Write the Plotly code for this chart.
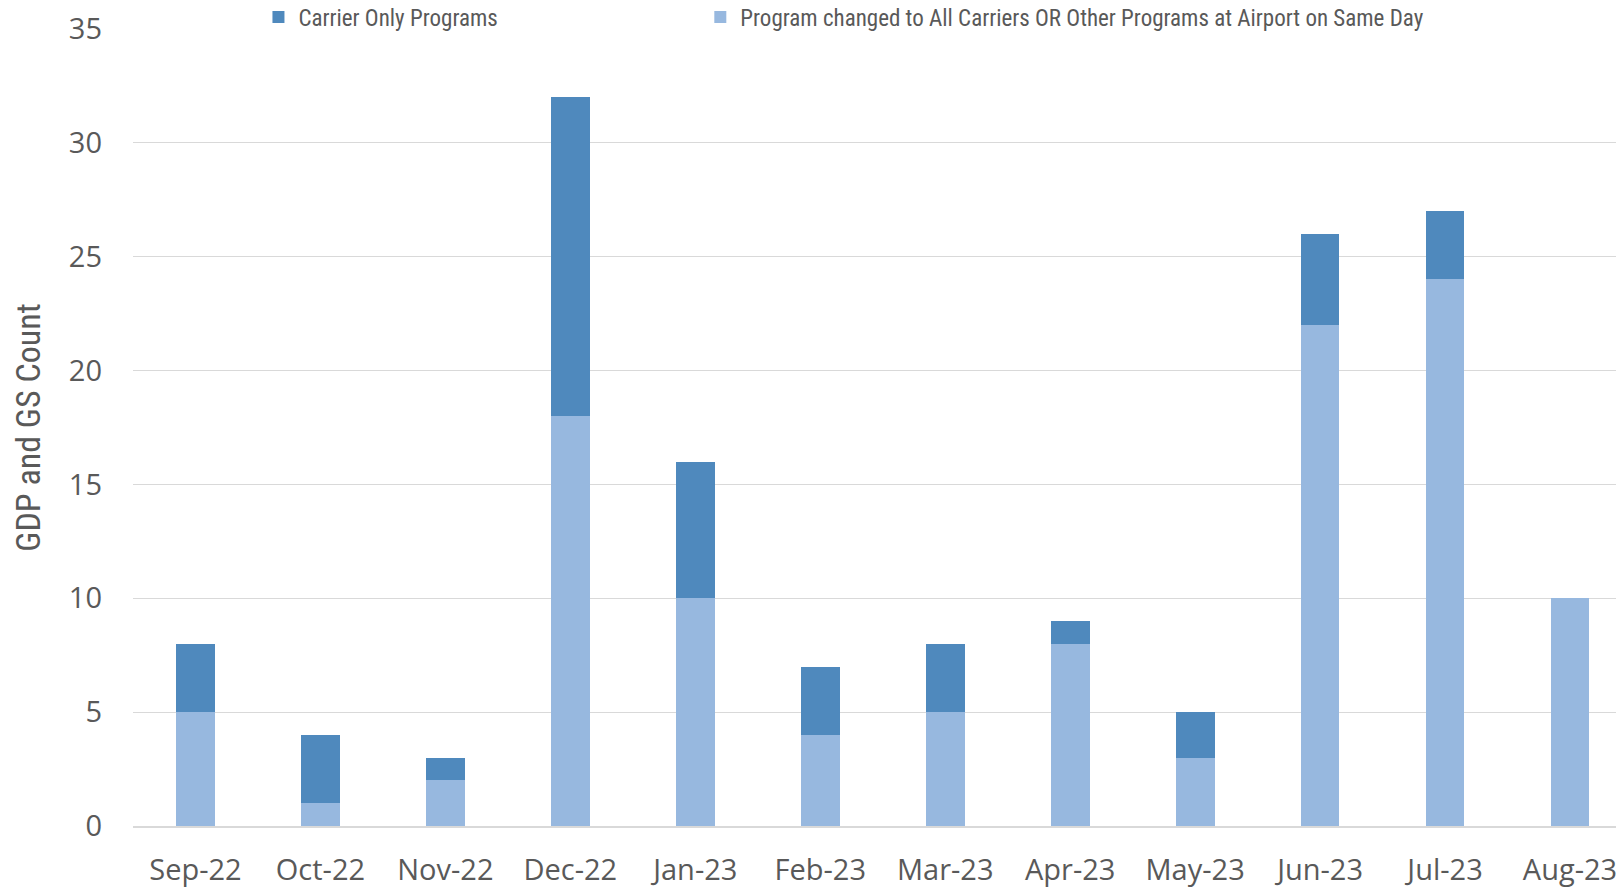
import plotly.graph_objects as go

months = ["Sep-22", "Oct-22", "Nov-22", "Dec-22", "Jan-23", "Feb-23",
          "Mar-23", "Apr-23", "May-23", "Jun-23", "Jul-23", "Aug-23"]
changed_programs = [5, 1, 2, 18, 10, 4, 5, 8, 3, 22, 24, 10]
carrier_only = [3, 3, 1, 14, 6, 3, 3, 1, 2, 4, 3, 0]

DARK = "#4F89BD"
LIGHT = "#97B8DF"
TICK_FONT = dict(family="Open Sans, sans-serif", size=29, color="#595959")
NARROW = "Liberation Sans Narrow, Roboto Condensed, Liberation Sans, sans-serif"

# page body adds an 8px offset, so the figure is 8px smaller than the window
W, H = 1616, 882
L, T, B = 124.5, 21, 63.5
plot_w = W - L
plot_h = H - T - B

fig = go.Figure()
fig.add_trace(go.Bar(
    x=months, y=changed_programs,
    name="Program changed to All Carriers OR Other Programs at Airport on Same Day",
    marker=dict(color=LIGHT, line=dict(width=0)),
    legend="legend2",
))
fig.add_trace(go.Bar(
    x=months, y=carrier_only,
    name="Carrier Only Programs",
    marker=dict(color=DARK, line=dict(width=0)),
    legend="legend",
))

legend_style = dict(
    orientation="h", xanchor="left",
    y=1 + (T - 9) / plot_h, yanchor="middle",
    itemwidth=30,
    font=dict(family=NARROW, size=23, color="#595959"),
    bgcolor="rgba(0,0,0,0)",
)

fig.update_layout(
    width=W, height=H,
    barmode="stack", bargap=0.69,
    plot_bgcolor="white", paper_bgcolor="white",
    margin=dict(l=L, r=0, t=T, b=B, autoexpand=False),
    showlegend=True,
    legend=dict(x=(250 - L) / plot_w, **legend_style),
    legend2=dict(x=(692 - L) / plot_w, **legend_style),
    xaxis=dict(
        range=[-0.5, 11.432], tickfont=TICK_FONT, showgrid=False,
        showline=True, linecolor="#D9D9D9", linewidth=1.5,
        ticks="", ticklabelstandoff=17,
    ),
    yaxis=dict(
        range=[0, 35], dtick=5, tickfont=TICK_FONT,
        showgrid=True, gridcolor="#D9D9D9", gridwidth=1.2,
        zeroline=False, ticks="", ticklabelstandoff=30,
        title=dict(text="GDP and GS Count", standoff=20,
                   font=dict(family=NARROW, size=34, color="#595959")),
    ),
    annotations=[dict(
        text="*", xref="paper", yref="paper",
        x=(1613 - L) / plot_w, y=-28 / plot_h,
        showarrow=False, font=dict(family="Open Sans", size=18, color="#595959"),
        xanchor="center", yanchor="middle",
    )],
)

fig.write_html("out.html")
